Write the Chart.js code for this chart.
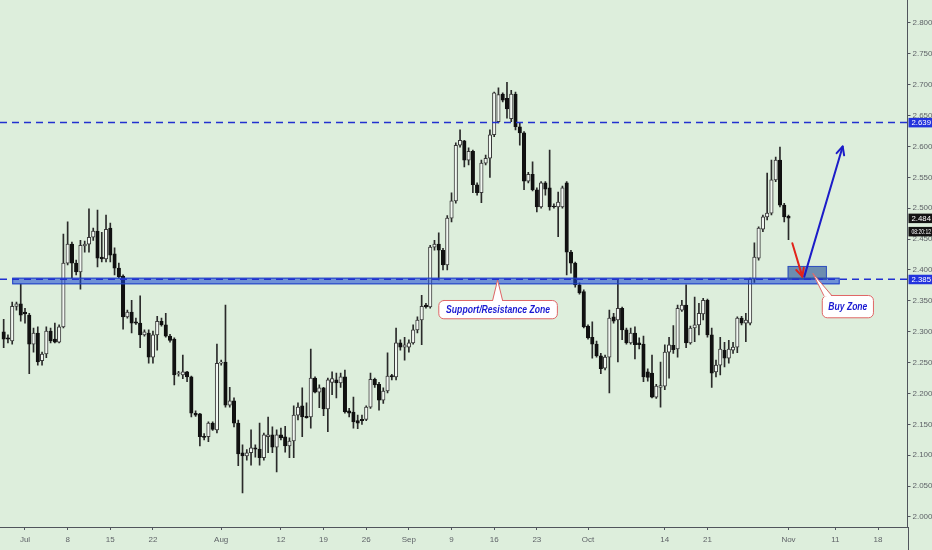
<!DOCTYPE html>
<html>
<head>
<meta charset="utf-8">
<title>Natural Gas 12H - Support/Resistance</title>
<script src="https://cdn.jsdelivr.net/npm/chart.js@4.4.1/dist/chart.umd.min.js"></script>
<style>
  html, body { margin: 0; padding: 0; background: #ddeedc; }
  #wrap { width: 932px; height: 550px; position: relative; }
</style>
</head>
<body>
<div id="wrap"><canvas id="ngChart"></canvas></div>
<script>
// 12h candles, bar 0 = first bar of July (index counts trading half-days)
const firstBar = -5;

const opens = [
  2.300, 2.290, 2.285, 2.341, 2.345, 2.332, 2.327, 2.280, 2.298, 2.253,
  2.264, 2.301, 2.288, 2.283, 2.308, 2.411, 2.442, 2.411, 2.397, 2.439,
  2.442, 2.453, 2.463, 2.421, 2.418, 2.468, 2.426, 2.403, 2.390, 2.324,
  2.332, 2.316, 2.314, 2.295, 2.298, 2.259, 2.295, 2.317, 2.311, 2.293,
  2.288, 2.232, 2.230, 2.235, 2.227, 2.168, 2.167, 2.130, 2.130, 2.152,
  2.141, 2.249, 2.251, 2.181, 2.188, 2.152, 2.104, 2.099, 2.104, 2.112,
  2.110, 2.096, 2.130, 2.133, 2.113, 2.133, 2.130, 2.115, 2.123, 2.165,
  2.180, 2.163, 2.162, 2.225, 2.202, 2.209, 2.175, 2.218, 2.222, 2.217,
  2.227, 2.172, 2.170, 2.156, 2.158, 2.158, 2.178, 2.223, 2.215, 2.189,
  2.204, 2.229, 2.227, 2.282, 2.275, 2.275, 2.282, 2.303, 2.319, 2.343,
  2.340, 2.437, 2.442, 2.432, 2.408, 2.484, 2.512, 2.602, 2.609, 2.578,
  2.592, 2.538, 2.525, 2.573, 2.581, 2.619, 2.640, 2.685, 2.678, 2.645,
  2.685, 2.632, 2.622, 2.544, 2.555, 2.530, 2.502, 2.541, 2.533, 2.503,
  2.502, 2.502, 2.541, 2.429, 2.411, 2.376, 2.365, 2.309, 2.291, 2.280,
  2.261, 2.241, 2.259, 2.324, 2.319, 2.338, 2.303, 2.282, 2.298, 2.282,
  2.280, 2.235, 2.233, 2.194, 2.210, 2.212, 2.267, 2.278, 2.272, 2.335,
  2.343, 2.282, 2.306, 2.311, 2.329, 2.351, 2.295, 2.235, 2.246, 2.270,
  2.257, 2.270, 2.275, 2.322, 2.314, 2.314, 2.385, 2.419, 2.466, 2.486,
  2.492, 2.546, 2.578, 2.505, 2.487
];
const highs = [
  2.320, 2.295, 2.348, 2.348, 2.377, 2.338, 2.330, 2.306, 2.308, 2.267,
  2.308, 2.306, 2.314, 2.311, 2.458, 2.478, 2.445, 2.416, 2.448, 2.447,
  2.499, 2.468, 2.497, 2.461, 2.489, 2.476, 2.436, 2.411, 2.392, 2.335,
  2.351, 2.322, 2.358, 2.303, 2.303, 2.301, 2.325, 2.322, 2.330, 2.296,
  2.290, 2.236, 2.262, 2.236, 2.228, 2.172, 2.168, 2.135, 2.154, 2.154,
  2.280, 2.254, 2.343, 2.210, 2.193, 2.157, 2.117, 2.109, 2.141, 2.117,
  2.152, 2.136, 2.162, 2.146, 2.141, 2.144, 2.147, 2.128, 2.180, 2.185,
  2.209, 2.185, 2.272, 2.227, 2.214, 2.210, 2.225, 2.235, 2.233, 2.233,
  2.238, 2.176, 2.194, 2.165, 2.165, 2.180, 2.233, 2.225, 2.218, 2.209,
  2.266, 2.231, 2.306, 2.287, 2.291, 2.287, 2.311, 2.324, 2.359, 2.346,
  2.440, 2.448, 2.460, 2.435, 2.488, 2.525, 2.606, 2.627, 2.610, 2.598,
  2.594, 2.541, 2.578, 2.586, 2.627, 2.688, 2.695, 2.687, 2.704, 2.691,
  2.688, 2.638, 2.624, 2.558, 2.575, 2.533, 2.543, 2.543, 2.594, 2.507,
  2.526, 2.536, 2.543, 2.432, 2.413, 2.379, 2.368, 2.311, 2.316, 2.285,
  2.265, 2.262, 2.335, 2.330, 2.384, 2.340, 2.306, 2.306, 2.308, 2.290,
  2.293, 2.240, 2.262, 2.215, 2.251, 2.279, 2.291, 2.310, 2.343, 2.351,
  2.376, 2.309, 2.356, 2.346, 2.354, 2.353, 2.306, 2.254, 2.291, 2.283,
  2.286, 2.283, 2.324, 2.325, 2.330, 2.387, 2.444, 2.470, 2.489, 2.557,
  2.578, 2.583, 2.599, 2.508, 2.489
];
const lows = [
  2.274, 2.282, 2.280, 2.335, 2.317, 2.314, 2.232, 2.267, 2.246, 2.246,
  2.258, 2.282, 2.282, 2.282, 2.306, 2.408, 2.387, 2.392, 2.369, 2.429,
  2.429, 2.448, 2.405, 2.413, 2.413, 2.413, 2.392, 2.387, 2.304, 2.322,
  2.298, 2.312, 2.274, 2.293, 2.249, 2.249, 2.270, 2.309, 2.291, 2.283,
  2.214, 2.228, 2.224, 2.219, 2.162, 2.163, 2.115, 2.125, 2.122, 2.140,
  2.136, 2.246, 2.178, 2.178, 2.146, 2.083, 2.039, 2.092, 2.084, 2.097,
  2.084, 2.092, 2.104, 2.104, 2.073, 2.125, 2.105, 2.096, 2.096, 2.157,
  2.130, 2.160, 2.144, 2.201, 2.177, 2.164, 2.138, 2.198, 2.193, 2.210,
  2.168, 2.162, 2.144, 2.143, 2.150, 2.156, 2.176, 2.210, 2.173, 2.184,
  2.201, 2.222, 2.222, 2.270, 2.254, 2.267, 2.280, 2.298, 2.279, 2.338,
  2.338, 2.432, 2.384, 2.400, 2.400, 2.478, 2.508, 2.599, 2.567, 2.570,
  2.525, 2.521, 2.509, 2.570, 2.550, 2.616, 2.638, 2.672, 2.646, 2.640,
  2.627, 2.602, 2.530, 2.541, 2.528, 2.494, 2.500, 2.521, 2.497, 2.500,
  2.454, 2.500, 2.392, 2.395, 2.372, 2.361, 2.306, 2.288, 2.257, 2.259,
  2.232, 2.238, 2.201, 2.314, 2.251, 2.287, 2.280, 2.280, 2.256, 2.272,
  2.219, 2.220, 2.193, 2.192, 2.178, 2.206, 2.225, 2.265, 2.259, 2.333,
  2.274, 2.280, 2.284, 2.295, 2.319, 2.291, 2.210, 2.227, 2.230, 2.243,
  2.249, 2.265, 2.266, 2.311, 2.284, 2.311, 2.380, 2.416, 2.462, 2.481,
  2.489, 2.543, 2.502, 2.478, 2.449
];
const closes = [
  2.288, 2.288, 2.341, 2.345, 2.327, 2.329, 2.280, 2.298, 2.251, 2.264,
  2.301, 2.285, 2.283, 2.308, 2.411, 2.442, 2.411, 2.397, 2.440, 2.442,
  2.453, 2.463, 2.419, 2.418, 2.466, 2.424, 2.403, 2.389, 2.324, 2.332,
  2.314, 2.314, 2.295, 2.300, 2.259, 2.295, 2.317, 2.311, 2.293, 2.286,
  2.230, 2.233, 2.235, 2.227, 2.168, 2.165, 2.130, 2.129, 2.152, 2.142,
  2.249, 2.251, 2.181, 2.188, 2.152, 2.102, 2.099, 2.104, 2.112, 2.110,
  2.096, 2.133, 2.133, 2.113, 2.133, 2.128, 2.115, 2.123, 2.165, 2.178,
  2.162, 2.161, 2.225, 2.202, 2.209, 2.175, 2.222, 2.224, 2.217, 2.227,
  2.170, 2.168, 2.154, 2.152, 2.156, 2.178, 2.223, 2.214, 2.189, 2.204,
  2.228, 2.227, 2.282, 2.275, 2.279, 2.282, 2.303, 2.319, 2.341, 2.340,
  2.437, 2.442, 2.432, 2.408, 2.484, 2.512, 2.602, 2.610, 2.578, 2.592,
  2.538, 2.525, 2.573, 2.581, 2.619, 2.687, 2.684, 2.675, 2.661, 2.685,
  2.632, 2.622, 2.544, 2.555, 2.530, 2.502, 2.541, 2.531, 2.502, 2.502,
  2.510, 2.533, 2.429, 2.411, 2.376, 2.363, 2.308, 2.290, 2.280, 2.261,
  2.240, 2.259, 2.322, 2.317, 2.338, 2.303, 2.282, 2.298, 2.279, 2.279,
  2.227, 2.226, 2.194, 2.212, 2.213, 2.267, 2.279, 2.271, 2.338, 2.343,
  2.282, 2.306, 2.311, 2.330, 2.351, 2.295, 2.233, 2.246, 2.272, 2.257,
  2.272, 2.275, 2.322, 2.314, 2.319, 2.385, 2.421, 2.468, 2.486, 2.492,
  2.546, 2.578, 2.505, 2.486, 2.484
];

// time axis: bar index of each labelled date
const xTickPos = [0, 10, 20, 30, 46, 60, 70, 80, 90, 100, 110, 120, 132, 150, 160, 179, 190, 200];
const xTickLabels = ['Jul', '8', '15', '22', 'Aug', '12', '19', '26', 'Sep', '9', '16', '23', 'Oct', '14', '21', 'Nov', '11', '18'];
const yTicks = [2.000, 2.050, 2.100, 2.150, 2.200, 2.250, 2.300, 2.350, 2.400,
                2.450, 2.500, 2.550, 2.600, 2.650, 2.700, 2.750, 2.800];

// visible range
const viewFirst = -5.86, viewLast = 206.9;
const priceMin = 1.9838, priceMax = 2.8372;

// drawings (in bar index / price units)
const resistanceLevel = 2.639;
const supportLevel = 2.385;
const zone = { from: -3, to: 191, top: 2.3875, bottom: 2.3768 };
const buyBox = { from: 178.8, to: 188, top: 2.4065, bottom: 2.3838 };
const redArrow = { x0: 179.9, p0: 2.4432, x1: 182.25, p1: 2.3892 };
const blueArrow = { x0: 182.7, p0: 2.3892, x1: 191.7, p1: 2.600 };
const srNote = { text: 'Support/Resistance Zone', from: 96.9, to: 124.7, top: 2.3514, bottom: 2.3218, tipX: 110.8, tipP: 2.3838 };
const buyNote = { text: 'Buy Zone', from: 186.8, to: 198.8, top: 2.3595, bottom: 2.3234, tipX: 184.7, tipP: 2.3946 };
const countdown = '08:20:12';

const bgColor = '#ddeedc';
const axisColor = '#50545c';
const tickFont = { family: '"Liberation Sans", Arial, sans-serif', size: 8 };

const isUp = closes.map((c, k) => c >= opens[k]);
const bodyData = opens.map((o, k) => ({ x: firstBar + k, y: [o, closes[k]] }));
const wickData = lows.map((l, k) => ({ x: firstBar + k, y: [l, highs[k]] }));

function drawArrow(ctx, x0, y0, x1, y1, color) {
  ctx.strokeStyle = color;
  ctx.lineWidth = 2;
  ctx.lineCap = 'round';
  ctx.lineJoin = 'round';
  ctx.beginPath();
  ctx.moveTo(x0, y0);
  ctx.lineTo(x1, y1);
  ctx.stroke();
  const ang = Math.atan2(y1 - y0, x1 - x0), len = 9, spread = 0.45;
  ctx.beginPath();
  ctx.moveTo(x1 - len * Math.cos(ang - spread), y1 - len * Math.sin(ang - spread));
  ctx.lineTo(x1, y1);
  ctx.lineTo(x1 - len * Math.cos(ang + spread), y1 - len * Math.sin(ang + spread));
  ctx.stroke();
}

function roundRectPath(ctx, x, y, w, h, r) {
  ctx.beginPath();
  ctx.moveTo(x + r, y);
  ctx.lineTo(x + w - r, y);
  ctx.arcTo(x + w, y, x + w, y + r, r);
  ctx.lineTo(x + w, y + h - r);
  ctx.arcTo(x + w, y + h, x + w - r, y + h, r);
  ctx.lineTo(x + r, y + h);
  ctx.arcTo(x, y + h, x, y + h - r, r);
  ctx.lineTo(x, y + r);
  ctx.arcTo(x, y, x + r, y, r);
  ctx.closePath();
}

function drawNote(ctx, xs, ys, note, baseFrom, baseTo, textW) {
  const bx0 = xs.getPixelForValue(note.from), bx1 = xs.getPixelForValue(note.to);
  const by0 = ys.getPixelForValue(note.top), by1 = ys.getPixelForValue(note.bottom);
  const tx = xs.getPixelForValue(note.tipX), ty = ys.getPixelForValue(note.tipP);
  ctx.lineWidth = 1;
  ctx.strokeStyle = '#e06666';
  ctx.fillStyle = '#ffffff';
  roundRectPath(ctx, bx0 + 0.5, by0 + 0.5, bx1 - bx0, by1 - by0, 5);
  ctx.fill();
  ctx.stroke();
  // pointer
  const px0 = baseFrom(bx0, bx1, tx), px1 = baseTo(bx0, bx1, tx);
  ctx.beginPath();
  ctx.moveTo(px0, by0 + 1.5);
  ctx.lineTo(tx, ty);
  ctx.lineTo(px1, by0 + 1.5);
  ctx.closePath();
  ctx.fill();
  ctx.beginPath();
  ctx.moveTo(px0, by0 + 0.5);
  ctx.lineTo(tx, ty);
  ctx.lineTo(px1, by0 + 0.5);
  ctx.stroke();
  // label, squeezed to the narrow lettering of the original
  ctx.font = 'italic bold 10.5px "Liberation Sans", Arial, sans-serif';
  const w = ctx.measureText(note.text).width;
  ctx.save();
  ctx.translate((bx0 + bx1) / 2 + 0.5, (by0 + by1) / 2 + 1);
  ctx.scale(Math.min(1, textW / w), 1);
  ctx.fillStyle = '#1a1ad2';
  ctx.textAlign = 'center';
  ctx.textBaseline = 'middle';
  ctx.fillText(note.text, 0, 0);
  ctx.restore();
}

function axisTag(ctx, chart, yPix, text, bg) {
  const left = chart.chartArea.right + 1;
  const room = chart.width - left - 4;
  ctx.fillStyle = bg;
  ctx.fillRect(left, yPix - 4.5, chart.width - left, 9.5);
  ctx.font = '8px "Liberation Sans", Arial, sans-serif';
  const w = ctx.measureText(text).width;
  ctx.save();
  ctx.translate(left + 3, yPix + 0.5);
  ctx.scale(Math.min(1, room / w), 1);
  ctx.fillStyle = '#ffffff';
  ctx.textAlign = 'left';
  ctx.textBaseline = 'middle';
  ctx.fillText(text, 0, 0);
  ctx.restore();
}

const drawings = {
  id: 'drawings',
  beforeDraw(chart) {
    const ctx = chart.ctx;
    ctx.save();
    ctx.fillStyle = bgColor;
    ctx.fillRect(0, 0, chart.width, chart.height);
    ctx.restore();
  },
  afterDatasetsDraw(chart) {
    const { ctx, chartArea: area, scales: { x, y } } = chart;
    ctx.save();

    // support / resistance band
    const zx0 = x.getPixelForValue(zone.from), zx1 = x.getPixelForValue(zone.to);
    const zy0 = y.getPixelForValue(zone.top), zy1 = y.getPixelForValue(zone.bottom);
    ctx.fillStyle = 'rgba(20, 70, 210, 0.55)';
    ctx.fillRect(zx0, zy0, zx1 - zx0, zy1 - zy0);
    ctx.strokeStyle = '#2140c8';
    ctx.lineWidth = 1;
    ctx.strokeRect(zx0 + 0.5, zy0 + 0.5, zx1 - zx0 - 1, zy1 - zy0 - 1);

    // buy box
    const bx0 = x.getPixelForValue(buyBox.from), bx1 = x.getPixelForValue(buyBox.to);
    const by0 = y.getPixelForValue(buyBox.top), by1 = y.getPixelForValue(buyBox.bottom);
    ctx.fillStyle = 'rgba(34, 76, 146, 0.6)';
    ctx.fillRect(bx0, by0, bx1 - bx0, by1 - by0);
    ctx.strokeStyle = '#3050c0';
    ctx.strokeRect(bx0 + 0.5, by0 + 0.5, bx1 - bx0 - 1, by1 - by0 - 1);

    // dashed horizontal levels
    ctx.strokeStyle = '#2230d0';
    ctx.lineWidth = 1.5;
    ctx.setLineDash([7, 5]);
    [resistanceLevel, supportLevel].forEach(lv => {
      const py = y.getPixelForValue(lv);
      ctx.beginPath();
      ctx.moveTo(area.left, py);
      ctx.lineTo(area.right, py);
      ctx.stroke();
    });
    ctx.setLineDash([]);

    // arrows
    drawArrow(ctx, x.getPixelForValue(redArrow.x0), y.getPixelForValue(redArrow.p0),
              x.getPixelForValue(redArrow.x1), y.getPixelForValue(redArrow.p1), '#e2231a');
    drawArrow(ctx, x.getPixelForValue(blueArrow.x0), y.getPixelForValue(blueArrow.p0),
              x.getPixelForValue(blueArrow.x1), y.getPixelForValue(blueArrow.p1), '#1c1cc8');

    // callouts
    drawNote(ctx, x, y, srNote, (a, b, t) => t - 5, (a, b, t) => t + 5, 104);
    drawNote(ctx, x, y, buyNote, (a, b, t) => a + 2, (a, b, t) => a + 10, 39);

    ctx.restore();
  },
  afterDraw(chart) {
    const { ctx, chartArea: area, scales: { y } } = chart;
    ctx.save();
    // price axis border runs down through the time axis as well
    ctx.strokeStyle = axisColor;
    ctx.lineWidth = 1;
    ctx.beginPath();
    ctx.moveTo(Math.round(area.right) + 0.5, area.bottom);
    ctx.lineTo(Math.round(area.right) + 0.5, chart.height);
    ctx.stroke();
    axisTag(ctx, chart, y.getPixelForValue(resistanceLevel), resistanceLevel.toFixed(3), '#2233dd');
    axisTag(ctx, chart, y.getPixelForValue(supportLevel), supportLevel.toFixed(3), '#2233dd');
    const last = closes[closes.length - 1];
    const lastY = y.getPixelForValue(last);
    axisTag(ctx, chart, lastY, last.toFixed(3), '#131313');
    axisTag(ctx, chart, lastY + 13.3, countdown, '#131313');
    ctx.restore();
  }
};

new Chart(document.getElementById('ngChart'), {
  type: 'bar',
  data: {
    datasets: [{
      label: 'Wicks',
      data: wickData,
      backgroundColor: '#2a2a2a',
      borderWidth: 0,
      barThickness: 1,
      grouped: false,
      order: 2
    }, {
      label: 'Bodies',
      data: bodyData,
      backgroundColor: isUp.map(u => u ? '#f1f7f1' : '#111111'),
      borderColor: isUp.map(u => u ? '#3a3a3a' : '#111111'),
      borderWidth: 1,
      borderSkipped: false,
      barThickness: 3.5,
      minBarLength: 1,
      grouped: false,
      order: 1
    }]
  },
  options: {
    responsive: true,
    maintainAspectRatio: false,
    animation: false,
    layout: { padding: 0 },
    plugins: {
      legend: { display: false },
      tooltip: { enabled: false }
    },
    scales: {
      x: {
        type: 'linear',
        min: viewFirst,
        max: viewLast,
        offset: false,
        grid: { offset: false, drawOnChartArea: false, tickLength: 3, color: axisColor },
        border: { color: axisColor },
        ticks: {
          font: tickFont,
          color: '#5f6368',
          padding: 5,
          maxRotation: 0,
          autoSkip: false,
          callback: (value, index) => xTickLabels[index] ?? ''
        },
        afterBuildTicks: axis => { axis.ticks = xTickPos.map(v => ({ value: v })); },
        afterFit: axis => {
          axis.height = 23;
          axis.paddingLeft = 0;
          axis.paddingRight = 0;
        }
      },
      y: {
        type: 'linear',
        position: 'right',
        min: priceMin,
        max: priceMax,
        beginAtZero: false,
        grid: { drawOnChartArea: false, tickLength: 3, color: axisColor },
        border: { color: axisColor },
        ticks: {
          font: tickFont,
          color: '#5f6368',
          padding: 2,
          callback: value => Number(value).toFixed(3)
        },
        afterBuildTicks: axis => { axis.ticks = yTicks.map(v => ({ value: v })); },
        afterFit: axis => {
          axis.width = 24.5;
          axis.paddingTop = 0;
          axis.paddingBottom = 0;
        }
      }
    }
  },
  plugins: [drawings]
});
</script>
</body>
</html>
